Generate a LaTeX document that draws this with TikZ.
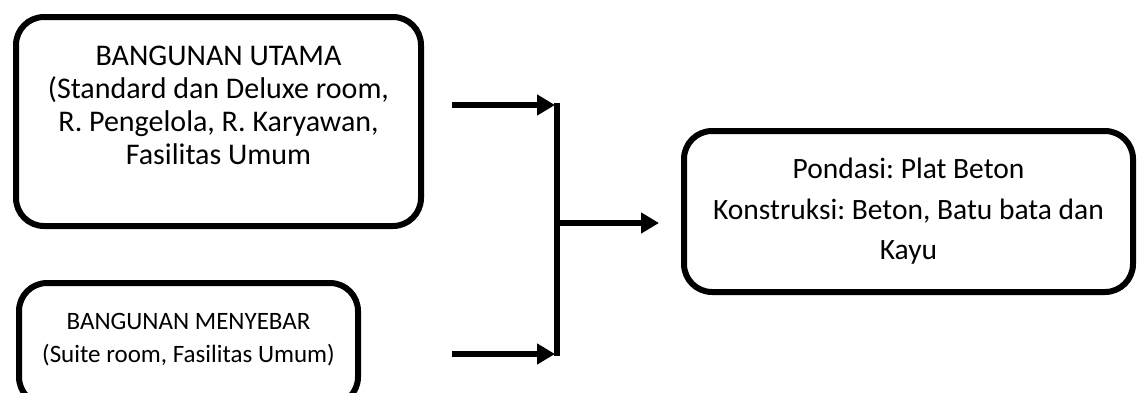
\documentclass[tikz,border=0pt]{standalone}
\usepackage{fontspec}
\setmainfont{Carlito}
\frenchspacing
\usetikzlibrary{arrows.meta, positioning, calc}
\tikzset{
x=1pt, y=-1pt,
>={Triangle[length=18pt, width=20pt]},
box/.style={%
    rectangle,
    rounded corners=28pt,
    line width=6pt,
    draw=black,
    inner sep=0pt,
},
boxtext/.style={%
    align=center, inner sep=0pt,
    font=\fontsize{30}{33}\selectfont,
},
flow/.style={line width=6pt, black},
junction/.style={coordinate},
}

\begin{document}
\begin{tikzpicture}
	\useasboundingbox (0,0) rectangle (1138,392);
	% kotak-kotak
	\node[box, minimum width=405pt, minimum height=209pt] (utama) at (218.5,121.5) {};
	\node[box, minimum width=339pt, minimum height=122pt] (menyebar) at (188.5,344) {};
	\node[box, minimum width=449pt, minimum height=161pt] (struktur) at (908.5,211.5) {};
	% teks
	\node[boxtext] (utamatext) at (218.5,105.5)
		{BANGUNAN UTAMA\\(Standard dan Deluxe room,\\R. Pengelola, R. Karyawan,\\Fasilitas Umum};
	\node[boxtext, font=\fontsize{25}{33}\selectfont] (menyebartext) at (188.5,339.5)
		{BANGUNAN MENYEBAR\\(Suite room, Fasilitas Umum)};
	\node[boxtext, font=\fontsize{29.5}{40.5}\selectfont] (strukturtext) at (struktur.center)
		{Pondasi: Plat Beton\\Konstruksi: Beton, Batu bata dan\\Kayu};
	% titik sambung
	\coordinate (p1) at (452,105);
	\coordinate (p2) at (452,354);
	\coordinate (q1) at (557,103);
	\coordinate (q2) at (557,356);
	\node[junction] (qm) at (557,223) {};

	\draw[flow, ->, shorten >=2pt] (p1) -- (p1 -| q1);
	\draw[flow, ->, shorten >=2pt] (p2) -- (p2 -| q1);
	\draw[flow] (q1) -- (q2);
	\draw[flow, ->, shorten >=22pt] (qm) -- (qm -| struktur.west);
\end{tikzpicture}
\end{document}
